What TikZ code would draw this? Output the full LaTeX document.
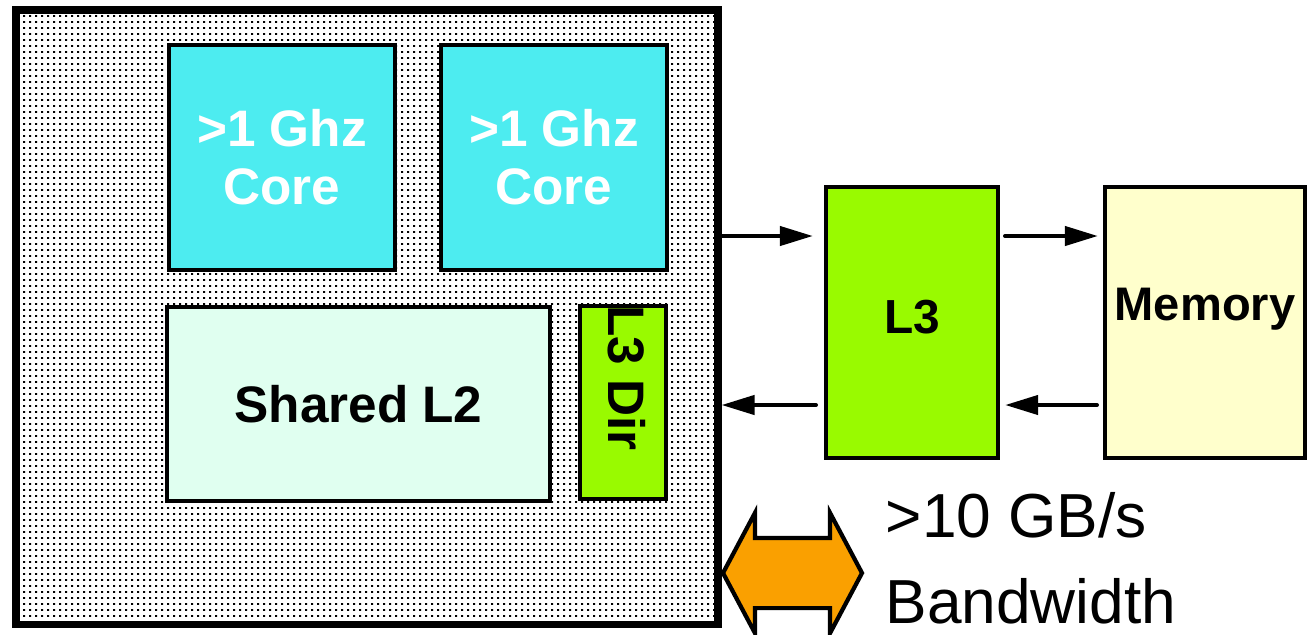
\documentclass[tikz,border=0pt]{standalone}
\usepackage{fontspec}
\setmainfont{Liberation Sans}
\usepackage{tikz}
\usetikzlibrary{arrows.meta,positioning,shapes.arrows,patterns.meta}
\usepackage{xcolor}
\definecolor{corecyan}{RGB}{77,236,240}
\definecolor{cachegreen}{RGB}{153,250,0}
\definecolor{l2mint}{RGB}{224,255,240}
\definecolor{memyellow}{RGB}{255,255,204}
\definecolor{bworange}{RGB}{250,160,0}

\tikzdeclarepattern{
  name=chipdots,
  bottom left={(0cm,0cm)},
  top right={(0.06cm,0.055cm)},
  tile size={(0.06cm,0.055cm)},
  code={\fill (0cm,0cm) rectangle (0.02cm,0.02cm);}
}

\begin{document}
\begin{tikzpicture}[
    unit/.style={draw, rectangle, line width=1.2pt, inner sep=0pt,
        align=center, font=\fontsize{14.6}{16.5}\selectfont\bfseries},
    core/.style={unit, fill=corecyan, text=white,
        minimum width=2.26cm, minimum height=2.25cm},
    cache/.style={unit, fill=cachegreen},
    label/.style={inner sep=0pt, font=\fontsize{13.6}{16}\selectfont\bfseries},
    link/.style={line width=1.2pt, line cap=round,
        -{Triangle[length=0.33cm, width=0.19cm]}},
]
\useasboundingbox (0,0) rectangle (13.08,6.34);

% ===== CHIP =====
\node[draw, line width=2pt, pattern=chipdots, pattern color=black,
    minimum width=7.02cm, minimum height=6.14cm, inner sep=0pt] (chip) at (3.67,3.17) {};

\node[core] (core1) at (2.82,4.765) {>1 Ghz\\Core};
\node[core] (core2) at (5.54,4.765) {>1 Ghz\\Core};
\node[unit, fill=l2mint, minimum width=3.83cm, minimum height=1.94cm] (l2) at (3.585,2.30) {Shared L2};
\node[cache, minimum width=0.86cm, minimum height=1.93cm] (l3dir) at (6.23,2.315) {};
\node[label, rotate=-90, font=\fontsize{14.6}{16.5}\selectfont\bfseries] (l3dirtxt) at (6.27,2.56) {L3 Dir};

% ===== OFF CHIP =====
\node[cache, minimum width=1.72cm, minimum height=2.71cm] (l3) at (9.12,3.115) {};
\node[label] (l3txt) at ([yshift=0.05cm]l3.center) {L3};
\node[unit, fill=memyellow, minimum width=2.00cm, minimum height=2.71cm] (mem) at (12.05,3.115) {};
\node[label, font=\fontsize{13.4}{16}\selectfont\bfseries] (memtxt) at ([yshift=0.13cm]mem.center) {Memory};

\coordinate (up) at (0,3.98);
\coordinate (dn) at (0,2.29);

\draw[link, shorten >=0.11cm] (chip.east |- up) -- (l3.west |- up);
\draw[link, shorten <=0.05cm, shorten >=0.05cm] (l3.east |- up) -- (mem.west |- up);
\draw[link, shorten <=0.08cm] (l3.west |- dn) -- (chip.east |- dn);
\draw[link, shorten <=0.06cm, shorten >=0.05cm] (mem.west |- dn) -- (l3.east |- dn);

% Bandwidth
\node[double arrow, draw, line width=1.2pt, fill=bworange,
    inner xsep=0pt, inner ysep=0.33cm, minimum height=1.39cm,
    double arrow head extend=0.25cm, double arrow tip angle=124] (bw) at (7.925,0.61) {};
\node[anchor=west, inner sep=0pt, align=left,
    font=\fontsize{17.7}{24.4}\selectfont] (bwtxt) at (8.85,0.76) {>10 GB/s\\Bandwidth};

\end{tikzpicture}
\end{document}
